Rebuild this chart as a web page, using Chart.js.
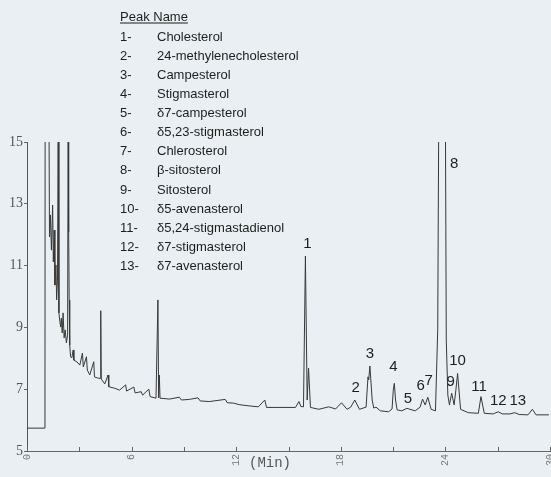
<!DOCTYPE html>
<html>
<head>
<meta charset="utf-8">
<script src="https://cdn.jsdelivr.net/npm/chart.js@4"></script>
<style>
  html, body { margin: 0; padding: 0; background: #e9eff2; overflow: hidden; }
  canvas { display: block; }
</style>
</head>
<body>
<canvas id="gc" width="551" height="477"></canvas>
<script>
// retention time (min) and detector signal of the sterol run
const scanTimes = [
  0.00, 1.03, 1.04, 1.26, 1.29, 1.34, 1.40, 1.47, 1.51, 1.56, 1.60, 1.66, 1.70, 1.75, 1.79,
  1.83, 1.89, 1.93, 1.97, 2.02, 2.07, 2.13, 2.19, 2.26, 2.33, 2.36, 2.39, 2.42, 2.45, 2.50,
  2.57, 2.65, 2.69, 2.87, 3.03, 3.18, 3.23, 3.41, 3.46, 3.60, 3.83, 3.87, 4.06, 4.20, 4.23,
  4.26, 4.46, 4.65, 4.69, 5.03, 5.31, 5.66, 5.71, 6.13, 6.20, 6.55, 6.63, 6.99, 7.06, 7.40,
  7.51, 7.55, 7.59, 7.63, 8.17, 8.74, 8.86, 9.31, 9.81, 9.94, 10.46, 11.37, 11.49, 11.85, 12.17,
  12.74, 13.27, 13.64, 13.74, 14.46, 15.40, 15.60, 15.71, 15.86, 15.97, 16.07, 16.15, 16.26, 16.74, 17.31,
  17.70, 18.04, 18.36, 18.57, 18.80, 19.07, 19.45, 19.56, 19.60, 19.67, 19.80, 19.89, 20.02, 20.27, 20.74,
  20.94, 21.01, 21.07, 21.14, 21.23, 21.50, 21.79, 22.27, 22.55, 22.69, 22.84, 22.99, 23.18, 23.43, 23.56,
  23.62, 23.81, 24.00, 24.05, 24.14, 24.23, 24.36, 24.50, 24.60, 24.70, 24.87, 25.31, 25.89, 26.04, 26.23,
  26.74, 27.03, 27.26, 27.71, 27.98, 28.23, 28.74, 28.99, 29.20, 29.94
];
const detector = [
  5.74, 5.74, 16, 16, 11.93, 12.64, 11.50, 12.96, 11.12, 12.15, 10.37, 11.02, 9.89, 10.53, 16,
  9.47, 9.17, 9.01, 9.30, 8.82, 9.47, 8.66, 8.92, 8.50, 8.75, 16, 12.09, 9.89, 8.43, 8.05,
  8.01, 8.27, 7.94, 7.88, 7.78, 8.17, 7.72, 8.05, 7.62, 7.46, 7.89, 7.40, 7.36, 7.35, 9.54,
  7.33, 7.17, 7.46, 7.08, 7.03, 6.97, 7.14, 6.94, 7.07, 6.88, 6.92, 6.81, 7.00, 6.76, 6.71,
  9.89, 6.72, 7.46, 6.71, 6.68, 6.74, 6.65, 6.67, 6.72, 6.62, 6.60, 6.67, 6.56, 6.55, 6.50,
  6.46, 6.43, 6.65, 6.41, 6.41, 6.41, 6.60, 6.44, 6.43, 11.31, 6.65, 7.68, 6.41, 6.35, 6.43,
  6.36, 6.56, 6.35, 6.42, 6.65, 6.35, 6.42, 7.40, 7.30, 7.75, 6.65, 6.39, 6.42, 6.30, 6.27,
  6.36, 6.97, 7.19, 6.65, 6.33, 6.30, 6.38, 6.30, 6.42, 6.68, 6.49, 6.74, 6.35, 6.30, 8.92,
  16, 16, 16, 8.59, 6.81, 6.49, 6.87, 6.49, 6.97, 7.51, 6.35, 6.24, 6.22, 6.76, 6.22,
  6.20, 6.27, 6.20, 6.20, 6.24, 6.18, 6.17, 6.35, 6.17, 6.17
];

// identified peaks: number and apex retention time
const peakIds = ['1', '2', '3', '4', '5', '6', '7', '8', '9', '10', '11', '12', '13'];
const peakTimes = [15.97, 18.80, 19.67, 21.07, 21.79, 22.69, 22.99, 23.81, 24.36, 24.70, 26.04, 27.03, 27.98];
const compoundNames = [
  'Cholesterol', '24-methylenecholesterol', 'Campesterol', 'Stigmasterol', 'δ7-campesterol',
  'δ5,23-stigmasterol', 'Chlerosterol', 'β-sitosterol', 'Sitosterol', 'δ5-avenasterol',
  'δ5,24-stigmastadienol', 'δ7-stigmasterol', 'δ7-avenasterol'
];

const timeLabels = [0, 6, 12, 18, 24, 30];
const signalLabels = [5, 7, 9, 11, 13, 15];

// pixel nudges for the peak numbers, relative to each apex
const labelNudge = [[2, -12], [1, -12], [0, -12], [-1, -16], [1, -9], [-2, -13], [1, -16],
  [12, 22], [-1, -11], [0, -13], [-2, -10], [0, -11], [3, -12]];

const ink = '#1e1e1e';

const annotate = {
  id: 'annotate',
  afterDraw(chart) {
    const { ctx, chartArea } = chart;
    const x = chart.scales.x, y = chart.scales.y;
    ctx.save();

    // inward minor ticks on the time axis
    ctx.strokeStyle = '#666';
    ctx.lineWidth = 1;
    x.ticks.forEach(t => {
      const px = Math.round(x.getPixelForValue(t.value)) + 0.5;
      ctx.beginPath();
      ctx.moveTo(px, chartArea.bottom);
      ctx.lineTo(px, chartArea.bottom - 4);
      ctx.stroke();
    });

    // peak numbers
    ctx.fillStyle = ink;
    ctx.font = '15px "Liberation Sans", Arial, sans-serif';
    ctx.textAlign = 'center';
    ctx.textBaseline = 'middle';
    peakIds.forEach((id, i) => {
      const k = scanTimes.indexOf(peakTimes[i]);
      const px = x.getPixelForValue(peakTimes[i]);
      const py = Math.max(y.getPixelForValue(detector[k]), chartArea.top);
      ctx.fillText(id, px + labelNudge[i][0], py + labelNudge[i][1]);
    });

    // peak name list
    ctx.textAlign = 'left';
    ctx.textBaseline = 'alphabetic';
    ctx.font = '13px "Liberation Sans", Arial, sans-serif';
    ctx.fillText('Peak Name', 120, 21);
    const w = ctx.measureText('Peak Name').width;
    ctx.fillRect(120, 22.5, w, 1);
    compoundNames.forEach((name, i) => {
      const by = 40.5 + i * 19.13;
      ctx.fillText(peakIds[i] + '-', 120, by);
      ctx.fillText(name, 157, by);
    });

    // time unit
    ctx.fillStyle = '#555';
    ctx.font = '14px "Liberation Mono", monospace';
    ctx.textAlign = 'center';
    ctx.textBaseline = 'middle';
    ctx.fillText('(Min)', 270, 463);
    ctx.restore();
  }
};

new Chart(document.getElementById('gc'), {
  type: 'line',
  data: {
    labels: scanTimes,
    datasets: [{
      data: scanTimes.map((t, i) => ({ x: t, y: detector[i] })),
      borderColor: '#383838',
      borderWidth: 1,
      pointRadius: 0,
      tension: 0,
      fill: false
    }]
  },
  options: {
    responsive: false,
    animation: false,
    devicePixelRatio: 1,
    layout: { padding: { top: 142, left: 0, right: 1, bottom: 0 } },
    plugins: { legend: { display: false }, tooltip: { enabled: false } },
    scales: {
      x: {
        type: 'linear',
        min: 0,
        max: 30,
        afterFit(s) { s.height = 26; s.paddingLeft = 0; s.paddingRight = 0; },
        afterBuildTicks(s) {
          const out = [];
          for (let v = 0; v <= 30; v += 3) out.push({ value: v });
          s.ticks = out;
        },
        ticks: {
          autoSkip: false,
          minRotation: 90,
          maxRotation: 90,
          padding: 3,
          color: '#777',
          font: { family: '"Liberation Mono", monospace', size: 10 },
          callback: v => (timeLabels.includes(v) ? String(v) : '')
        },
        grid: { drawOnChartArea: false, drawTicks: false },
        border: { color: '#666', width: 1 }
      },
      y: {
        min: 5,
        max: 15,
        afterFit(s) { s.width = 27; s.paddingTop = 0; s.paddingBottom = 0; },
        afterBuildTicks(s) { s.ticks = signalLabels.map(v => ({ value: v })); },
        ticks: {
          padding: 1,
          color: '#555',
          font: { family: '"Liberation Serif", serif', size: 14 }
        },
        grid: { drawOnChartArea: false, drawTicks: true, tickLength: 3, tickColor: '#666' },
        border: { color: '#555', width: 1 }
      }
    }
  },
  plugins: [annotate]
});
</script>
</body>
</html>
